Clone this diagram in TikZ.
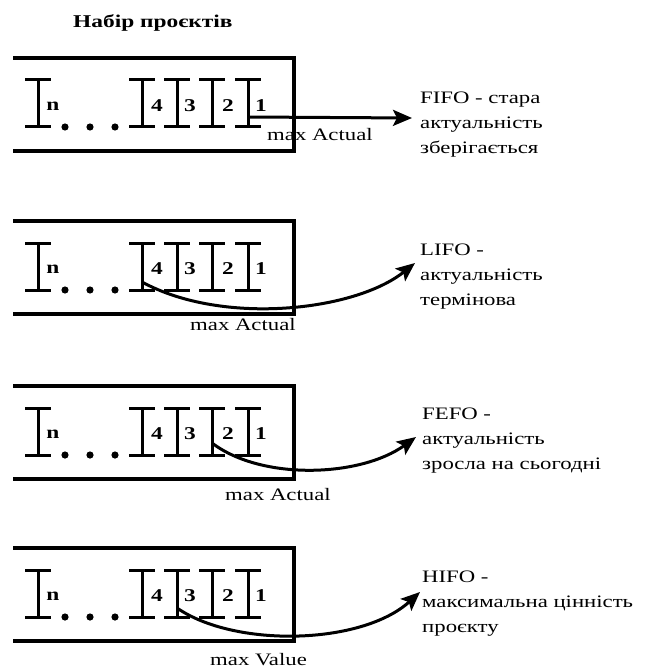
\documentclass[tikz,border=0pt]{standalone}
\usepackage{fontspec}
\setmainfont{Liberation Serif}[FakeStretch=1.3]
\usetikzlibrary{arrows.meta}

% three left-aligned lines, baseline = baseline of the first line
\newcommand\threelines[3]{\vtop{\baselineskip=25pt\hbox{#1}\hbox{#2}\hbox{#3}}}

\tikzset{
  frame/.style={line width=4pt, line join=miter},
  beamline/.style={line width=3pt},
  num/.style={font=\fontsize{18}{20}\selectfont\bfseries, inner sep=0pt},
  txt/.style={font=\fontsize{17.5}{25}\selectfont, inner sep=0pt, anchor=base west},
  conn/.style={line width=3pt, -{Stealth[length=19pt,width=16pt,inset=4pt]}},
  beam/.pic={
    \draw[beamline] (-13,0) -- (13,0) (0,0) -- (0,47) (-13,47) -- (13,47);
  },
  queue/.pic={
    \draw[frame] (13,0) -| (294,93) -- (13,93);
    \foreach \x in {38,142,177,212,248} \pic at (\x,22) {beam};
    \node[num] (-n)  at (53,48)  {n};
    \node[num] (-d4) at (157,48) {4};
    \node[num] (-d3) at (190,48) {3};
    \node[num] (-d2) at (228,48) {2};
    \node[num] (-d1) at (261,48) {1};
    \foreach \x in {65,90,115} \fill (\x,69) circle (3.6);
    \coordinate (-c1) at (248,59);
    \coordinate (-c2) at (212,57);
    \coordinate (-c3) at (177,60);
    \coordinate (-c4) at (142,61);
  }
}

\begin{document}
\begin{tikzpicture}[x=1pt, y=-1pt]
  \useasboundingbox (0,0) rectangle (652,671);

  \node[txt, font=\fontsize{18}{22}\selectfont\bfseries] (title) at (73,28) {Набір проєктів};

  % four queues of projects
  \pic (qa) at (0,58)  {queue};
  \pic (qb) at (0,221) {queue};
  \pic (qc) at (0,386) {queue};
  \pic (qd) at (0,548) {queue};

  % FIFO
  \coordinate (ta) at (412,118);
  \draw[conn] (qa-c1) -- (ta);
  \node[txt] (ma) at (267,141) {max Actual};
  \node[txt] (fifo) at (420,104) {\threelines{FIFO - стара}{актуальність}{зберігається}};

  % LIFO
  \coordinate (tb) at (415,263);
  \draw[conn] (qb-c4) .. controls (223,326) and (355,311) .. (tb);
  \node[txt] (mb) at (190,330) {max Actual};
  \node[txt] (lifo) at (420,255) {\threelines{LIFO -}{актуальність}{термінова}};

  % FEFO
  \coordinate (tc) at (416,437);
  \draw[conn] (qc-c2) .. controls (262,481) and (361,477) .. (tc);
  \node[txt] (mc) at (225,500) {max Actual};
  \node[txt] (fefo) at (422,419) {\threelines{FEFO -}{актуальність}{зросла на сьогодні}};

  % HIFO
  \coordinate (td) at (420,592);
  \draw[conn] (qd-c3) .. controls (235,648) and (362,645) .. (td);
  \node[txt] (md) at (210,665) {max Value};
  \node[txt] (hifo) at (422,582) {\threelines{HIFO -}{максимальна цінність}{проєкту}};
\end{tikzpicture}
\end{document}
